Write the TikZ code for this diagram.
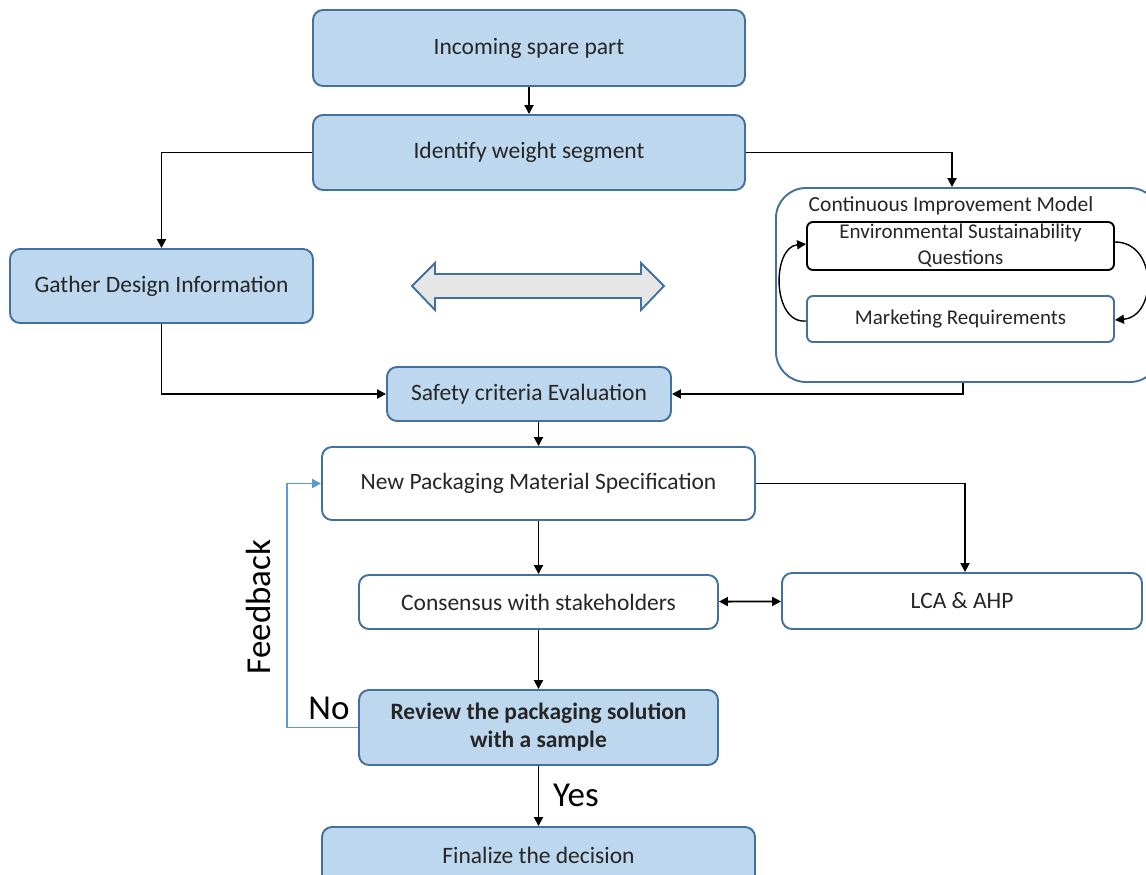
\documentclass[tikz,border=0pt]{standalone}
\usepackage{fontspec}
\setmainfont{Carlito}
\usetikzlibrary{arrows.meta,calc}
\definecolor{boxfill}{HTML}{BDD7EE}
\definecolor{boxline}{HTML}{41719C}
\definecolor{fbline}{HTML}{5B9BD5}
\definecolor{arrfill}{HTML}{E7E6E6}
\begin{document}
\begin{tikzpicture}[x=1pt,y=-1pt,
  base/.style={rectangle, rounded corners=10pt, draw=boxline, line width=1.9pt,
    inner sep=2pt, align=center, font=\fontsize{23.5}{26}\selectfont, text=black!85},
  filled/.style={base, fill=boxfill},
  plain/.style={base, fill=white},
  conn/.style={draw=black, line width=1.9pt, -{Triangle[length=9pt,width=9pt]}},
  big/.style={font=\fontsize{35}{37}\selectfont, text=black}
]
\useasboundingbox (0,0) rectangle (1146,875);

% main flow boxes
\node[filled, minimum width=432pt, minimum height=76pt] (inc) at (529,48) {Incoming spare part};
\node[filled, minimum width=432pt, minimum height=75pt] (ident) at (529,152.5) {Identify weight segment};
\node[filled, minimum width=303pt, minimum height=74pt] (gather) at (161.5,286) {Gather Design Information};
\node[filled, minimum width=284pt, minimum height=54pt] (safety) at (529,394) {Safety criteria Evaluation};
\node[plain, minimum width=433pt, minimum height=73pt] (newpack) at (538.5,483.5) {New Packaging Material Specification};
\node[plain, minimum width=359pt, minimum height=54pt] (cons) at (538.5,602) {Consensus with stakeholders};
\node[plain, minimum width=360pt, minimum height=56pt] (lca) at (962,601) {LCA \& AHP};
\node[filled, minimum width=359pt, minimum height=75pt, font=\bfseries\fontsize{23.5}{28}\selectfont] (review) at (538.5,727.5) {Review the packaging solution\\with a sample};
\node[filled, minimum width=433pt, minimum height=66pt] (final) at (538.5,860) {\raisebox{10pt}{Finalize the decision}};

% continuous improvement model
\node[plain, rounded corners=30pt, minimum width=384pt, minimum height=194pt] (cim) at (968,285) {};
\node[font=\fontsize{21.5}{24}\selectfont, text=black!85] (cimtitle) at (951,206) {Continuous Improvement Model};
\node[plain, draw=black, rounded corners=6pt, minimum width=307pt, minimum height=48pt,
  font=\fontsize{21}{26}\selectfont] (env) at (960.5,246) {Environmental Sustainability\\Questions};
\node[plain, rounded corners=6pt, minimum width=307pt, minimum height=46pt,
  font=\fontsize{21}{24}\selectfont] (mkt) at (960.5,319) {Marketing Requirements};
\draw[conn, line width=1.4pt] ([yshift=-2pt]mkt.west) to[out=185,in=185,looseness=1.15] ([yshift=2pt]env.west);
\draw[conn, line width=1.4pt] ([yshift=4pt]env.east) to[out=0,in=5,looseness=1.4] ([yshift=-1pt]mkt.east);

% double-headed block arrow
\draw[draw=boxline, line width=1.9pt, fill=arrfill, line join=miter]
  (412,286) -- (435,263) -- (435,274) -- (641,274) -- (641,263) -- (664,286)
  -- (641,310) -- (641,298) -- (435,298) -- (435,310) -- cycle;

% connectors
\draw[conn] (inc) -- (ident);
\draw[conn] (ident.west) -| (gather.north);
\draw[conn] (ident.east) -| ([xshift=-16pt]cim.north);
\draw[conn] (gather.south) |- (safety.west);
\draw[conn] ([xshift=-5pt]cim.south) |- (safety.east);
\draw[conn] (newpack.north |- safety.south) -- (newpack.north);
\draw[conn] (newpack) -- (cons);
\draw[conn] (newpack.east) -| ([xshift=3pt]lca.north);
\draw[conn, {Triangle[length=9pt,width=9pt]}-{Triangle[length=9pt,width=9pt]}] (cons) -- (lca);
\draw[conn] (cons) -- (review);
\draw[conn] (review) -- (final);
\draw[conn, draw=fbline, line width=1.9pt, -{Triangle[length=9pt,width=9pt,fill=fbline]}]
  (review.west) -- ++(-71,0) |- (newpack.west);

% labels
\node[big, rotate=90] (fb) at (258,607) {Feedback};
\node[big] (no) at (329,708) {No};
\node[big] (yes) at (576,795) {Yes};
\end{tikzpicture}
\end{document}
